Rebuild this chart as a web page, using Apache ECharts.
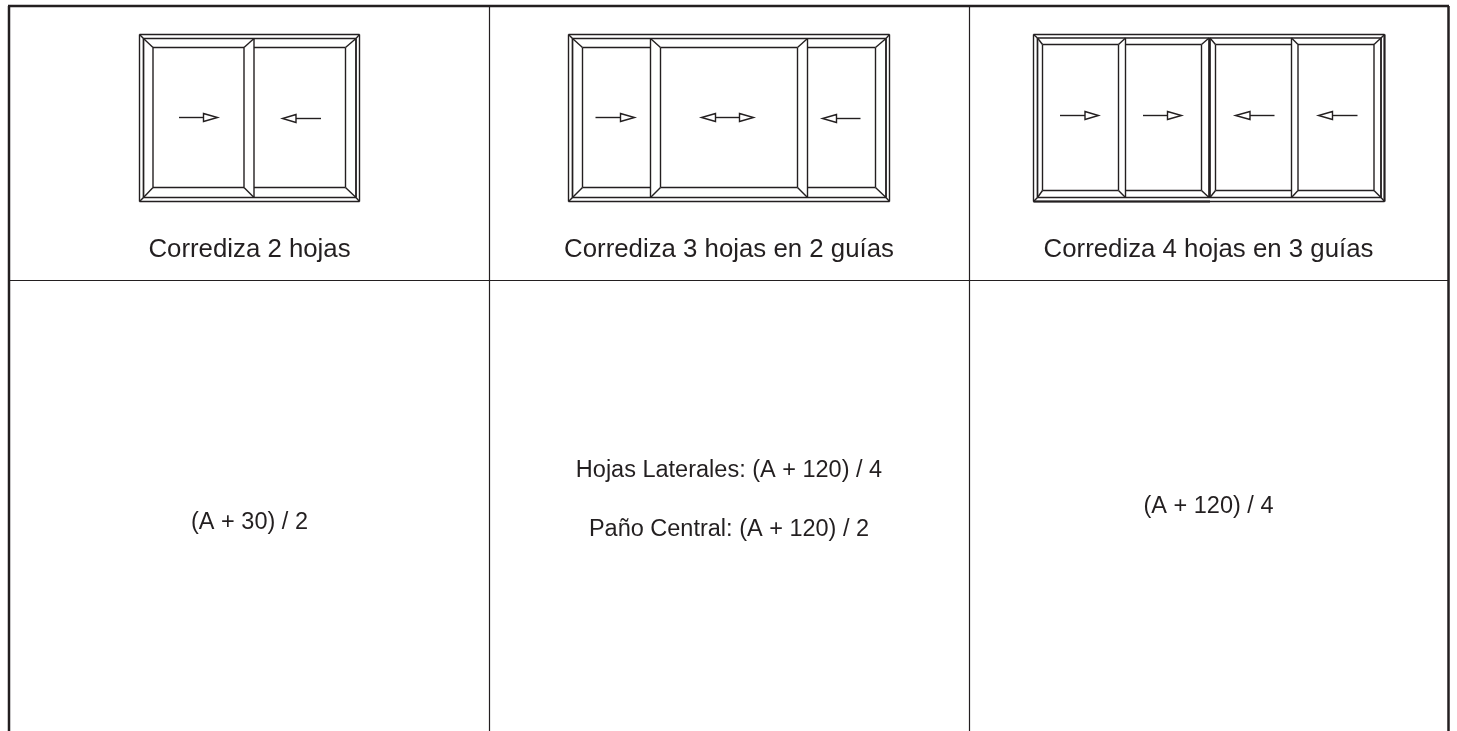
<!DOCTYPE html>
<html>
<head>
<meta charset="utf-8">
<title>Corrediza</title>
<style>
    html, body { margin: 0; padding: 0; background: #fff; }
    #main { width: 1457px; height: 731px; }
</style>
<script src="https://cdn.jsdelivr.net/npm/echarts@6/dist/echarts.min.js"></script>
</head>
<body>
<div id="main"></div>
<script>
// textos de la tabla
var categories = ['Corrediza 2 hojas', 'Corrediza 3 hojas en 2 guías', 'Corrediza 4 hojas en 3 guías'];
var formulas = [
    ['(A + 30) / 2'],
    ['Hojas Laterales: (A + 120) / 4', 'Paño Central: (A + 120) / 2'],
    ['(A + 120) / 4']
];

// marco: exterior izq, interior izq, interior der, exterior der
var frames = [
    [139.5, 143.5, 356, 359.5],
    [568.5, 572.5, 886, 889.5],
    [1033.5, 1037.5, 1381, 1384.5]
];
// alturas: exterior, interior, vidrio, vidrio, interior, exterior
var rails = [
    [34.5, 38.5, 47.5, 187.5, 197.5, 201.5],
    [34.5, 38.5, 47.5, 187.5, 197.5, 201.5],
    [34.5, 38, 44.5, 190.5, 197.5, 201.5]
];
// hojas: borde izq, vidrio izq, vidrio der, borde der
var leaves = [
    [[143.5, 153, 244, 254], [254, 254, 345.5, 356]],
    [[572.5, 582.5, 650.5, 650.5], [650.5, 660.5, 797.5, 807.5], [807.5, 807.5, 875.5, 886]],
    [[1037.5, 1042.5, 1118.5, 1125.5], [1125.5, 1125.5, 1201.5, 1209], [1210, 1215.5, 1291.5, 1291.5], [1291.5, 1298, 1374, 1381]]
];
// flechas: cola, base de la punta, punta, altura
var arrows = [
    [179, 203.5, 217.5, 117.5], [321, 296, 282.5, 118.5],
    [595.5, 620.5, 634.5, 117.5], [727, 715.5, 701.5, 117.5], [727, 739.5, 753.5, 117.5], [860.5, 836.5, 822.5, 118.5],
    [1060, 1085, 1098.5, 115.5], [1143, 1167.5, 1181.5, 115.5], [1274.5, 1250, 1235.5, 115.5], [1357.5, 1332.5, 1318.5, 115.5]
];
// lineas gruesas de la tercera ventana
var heavyLines = [
    [1033.5, 201.5, 1210, 201.5],
    [1384.5, 34.5, 1384.5, 201.5],
    [1209.5, 38, 1209.5, 197.5]
];
// tabla
var tableBorder = [
    [8, 6, 1449, 6],
    [9, 6, 9, 731],
    [1448.5, 6, 1448.5, 731]
];
var tableGrid = [
    [9, 280.5, 1448, 280.5],
    [489.5, 6, 489.5, 731],
    [969.5, 6, 969.5, 731]
];

var INK = '#231f20';
var myChart = echarts.init(document.getElementById('main'));

function windowSegments(f, r, ls) {
    var s = [];
    // marco exterior e interior
    s.push([f[0], r[0], f[3], r[0]], [f[0], r[5], f[3], r[5]], [f[0], r[0], f[0], r[5]], [f[3], r[0], f[3], r[5]]);
    s.push([f[1], r[1], f[2], r[1]], [f[1], r[4], f[2], r[4]], [f[1], r[1], f[1], r[4]], [f[2], r[1], f[2], r[4]]);
    // esquinas del marco
    s.push([f[0], r[0], f[1], r[1]], [f[3], r[0], f[2], r[1]], [f[0], r[5], f[1], r[4]], [f[3], r[5], f[2], r[4]]);
    ls.forEach(function (l) {
        s.push([l[1], r[2], l[2], r[2]], [l[1], r[3], l[2], r[3]]);
        if (l[0] != l[1]) {
            s.push([l[1], r[2], l[1], r[3]], [l[0], r[1], l[0], r[4]], [l[0], r[1], l[1], r[2]], [l[0], r[4], l[1], r[3]]);
        }
        if (l[2] != l[3]) {
            s.push([l[2], r[2], l[2], r[3]], [l[3], r[1], l[3], r[4]], [l[3], r[1], l[2], r[2]], [l[3], r[4], l[2], r[3]]);
        }
    });
    return s;
}

var windowLines = [];
frames.forEach(function (f, i) {
    windowLines = windowLines.concat(windowSegments(f, rails[i], leaves[i]));
});

function lineSeries(rows, width) {
    return {
        type: 'custom',
        silent: true,
        clip: false,
        data: rows,
        renderItem: function (params, api) {
            var a = api.coord([api.value(0), api.value(1)]);
            var b = api.coord([api.value(2), api.value(3)]);
            return {
                type: 'line',
                shape: { x1: a[0], y1: a[1], x2: b[0], y2: b[1] },
                style: { stroke: INK, lineWidth: width, fill: null }
            };
        }
    };
}

var arrowSeries = {
    type: 'custom',
    silent: true,
    data: arrows,
    renderItem: function (params, api) {
        var tail = api.coord([api.value(0), api.value(3)]);
        var base = api.coord([api.value(1), api.value(3)]);
        var tip = api.coord([api.value(2), api.value(3)]);
        return {
            type: 'group',
            children: [
                {
                    type: 'line',
                    shape: { x1: tail[0], y1: tail[1], x2: base[0], y2: base[1] },
                    style: { stroke: INK, lineWidth: 1.4, fill: null }
                },
                {
                    type: 'polygon',
                    shape: { points: [[base[0], base[1] - 4], [tip[0], tip[1]], [base[0], base[1] + 4]] },
                    style: { stroke: INK, lineWidth: 1.4, fill: '#fff' }
                }
            ]
        };
    }
};

// filas de texto: x, y, texto, tamano
var textRows = [];
var colCenters = [249.5, 729, 1208.5];
var formulaY = [[523], [471, 529.5], [507]];
categories.forEach(function (c, i) {
    textRows.push([colCenters[i], 250, c, 25.8]);
    formulas[i].forEach(function (t, j) {
        textRows.push([colCenters[i], formulaY[i][j], t, 23.5]);
    });
});

var textSeries = {
    type: 'custom',
    silent: true,
    data: textRows,
    renderItem: function (params, api) {
        var row = textRows[params.dataIndex];
        var p = api.coord([row[0], row[1]]);
        return {
            type: 'text',
            style: {
                x: p[0],
                y: p[1],
                text: row[2],
                fill: INK,
                align: 'center',
                verticalAlign: 'middle',
                font: row[3] + 'px "Liberation Sans", Arial, sans-serif'
            }
        };
    }
};

var option = {
    animation: false,
    backgroundColor: '#fff',
    grid: { left: 0, right: 0, top: 0, bottom: 0 },
    xAxis: { type: 'value', min: 0, max: 1457, show: false },
    yAxis: { type: 'value', min: 0, max: 731, inverse: true, show: false },
    series: [
        lineSeries(tableGrid, 1.2),
        lineSeries(tableBorder, 2.5),
        lineSeries(windowLines, 1.4),
        lineSeries(heavyLines, 2),
        arrowSeries,
        textSeries
    ]
};
myChart.setOption(option);
</script>
</body>
</html>
